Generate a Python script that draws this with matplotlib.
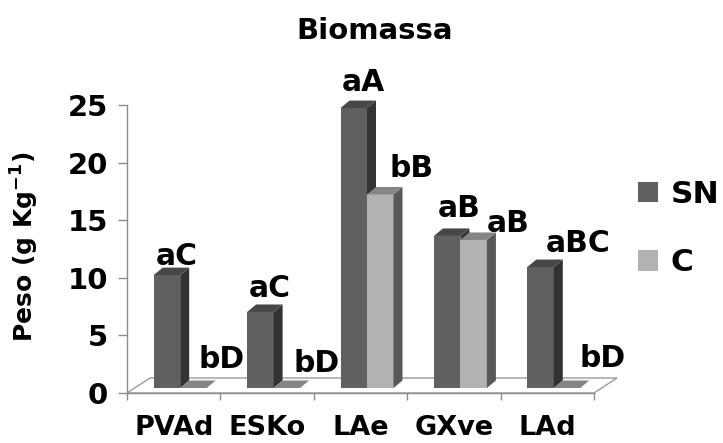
import matplotlib
matplotlib.use('Agg')
import matplotlib.pyplot as plt
from matplotlib.patches import Polygon, Patch

# ---- data ----
categories = ['PVAd', 'ESKo', 'LAe', 'GXve', 'LAd']
series_names = ['SN', 'C']
sn_values = [9.8, 6.6, 24.3, 13.2, 10.5]
c_values = [0.0, 0.0, 16.8, 12.85, 0.0]
sn_labels = ['aC', 'aC', 'aA', 'aB', 'aBC']
c_labels = ['bD', 'bD', 'bB', 'aB', 'bD']
yticks = [0, 5, 10, 15, 20, 25]

# ---- style ----
W, H = 723, 443
FONT = 'DejaVu Sans'
front_cols = ['#606060', '#b2b2b2']
side_cols = ['#333333', '#585858']
top_cols = ['#474747', '#858585']
# label offsets in pixels (dx, dy) relative to the bar's front-top centre
sn_off = [(10, 10), (9.5, 14.7), (9.5, 17), (12.5, 19), (38, 15)]
c_off = [(28.5, 20), (29.5, 16), (31, 17), (35, 8), (36, 21)]

fig = plt.figure(figsize=(W / 100, H / 100), dpi=100)
ax_w, ax_h = 467, 288
ax = fig.add_axes([127 / W, 50 / H, ax_w / W, ax_h / H])
ax.set_xlim(-0.5, len(categories) - 0.5)
ax.set_ylim(0, 25)

xs = ax_w / len(categories)   # px per x unit
ys = ax_h / 25.0              # px per y unit
base = (6.5 / xs, 5 / ys)
depth = (9 / xs, 7.5 / ys)
flr = (23 / xs, 15 / ys)
bw = 26.5 / xs
px2pt = 0.72

# floor
x_lo, x_hi = -0.5, len(categories) - 0.5
ax.add_patch(Polygon([(x_lo, 0), (x_lo + flr[0], flr[1]), (x_hi + flr[0], flr[1]), (x_hi, 0)],
                     closed=True, facecolor='white', edgecolor='#9a9a9a', lw=1.0,
                     clip_on=False, zorder=1))

z = 3
for i in range(len(categories)):
    for j, vals in enumerate([sn_values, c_values]):
        v = vals[i]
        x0 = i - bw + j * bw + base[0]
        y0 = base[1]
        ax.bar(x0, v, width=bw, bottom=y0, align='edge', color=front_cols[j],
               lw=0, zorder=z)
        ax.add_patch(Polygon([(x0 + bw, y0), (x0 + bw + depth[0], y0 + depth[1]),
                              (x0 + bw + depth[0], y0 + v + depth[1]), (x0 + bw, y0 + v)],
                             closed=True, facecolor=side_cols[j], lw=0, zorder=z,
                             clip_on=False))
        ax.add_patch(Polygon([(x0, y0 + v), (x0 + depth[0], y0 + v + depth[1]),
                              (x0 + bw + depth[0], y0 + v + depth[1]), (x0 + bw, y0 + v)],
                             closed=True, facecolor=top_cols[j], lw=0, zorder=z,
                             clip_on=False))
        z += 1
        lbl = (sn_labels if j == 0 else c_labels)[i]
        off = (sn_off if j == 0 else c_off)[i]
        ax.annotate(lbl, xy=(x0 + bw / 2, y0 + v),
                    xytext=(off[0] * px2pt, off[1] * px2pt), textcoords='offset points',
                    ha='center', va='baseline', fontsize=21.5, fontweight='bold',
                    family=FONT, zorder=50, annotation_clip=False)

# axes styling
for s in ['top', 'right']:
    ax.spines[s].set_visible(False)
for s in ['left', 'bottom']:
    ax.spines[s].set_color('#8c8c8c')
    ax.spines[s].set_linewidth(1.0)
    ax.spines[s].set_zorder(2)

ax.set_yticks(yticks)
ax.set_yticklabels([str(t) for t in yticks])
ax.tick_params(axis='y', length=6.5, width=1, color='#8c8c8c', pad=7,
               labelsize=21, direction='out')
ax.set_xticks([k - 0.5 for k in range(len(categories) + 1)])
ax.set_xticklabels([''] * (len(categories) + 1))
ax.tick_params(axis='x', which='major', length=5, width=1, color='#8c8c8c', direction='out')
ax.set_xticks(range(len(categories)), minor=True)
ax.set_xticklabels(categories, minor=True)
ax.tick_params(axis='x', which='minor', length=0, pad=16, labelsize=19.5)
for t in ax.get_xticklabels(minor=True) + ax.get_yticklabels():
    t.set_fontweight('bold')
    t.set_family(FONT)

ax.set_ylabel(r'Peso (g Kg$^{\mathbf{-1}}$)', fontsize=18, fontweight='bold', family=FONT)
ax.yaxis.set_label_coords(-(127 - 25) / ax_w, (393 - 247) / ax_h)
ax.yaxis.label.set_va('center')

fig.text(375 / W, (H - 39) / H, 'Biomassa', ha='center', va='baseline',
         fontsize=21, fontweight='bold', family=FONT)

handles = [Patch(facecolor=front_cols[k], edgecolor='none') for k in range(2)]
leg = fig.legend(handles, series_names, loc='upper left',
                 bbox_to_anchor=(638 / W, (H - 180) / H), frameon=False,
                 borderpad=0, borderaxespad=0, handlelength=0.65, handleheight=0.65,
                 handletextpad=0.4, labelspacing=1.26,
                 prop={'family': FONT, 'weight': 'bold', 'size': 22.5})

fig.savefig('out.png', dpi=100)
